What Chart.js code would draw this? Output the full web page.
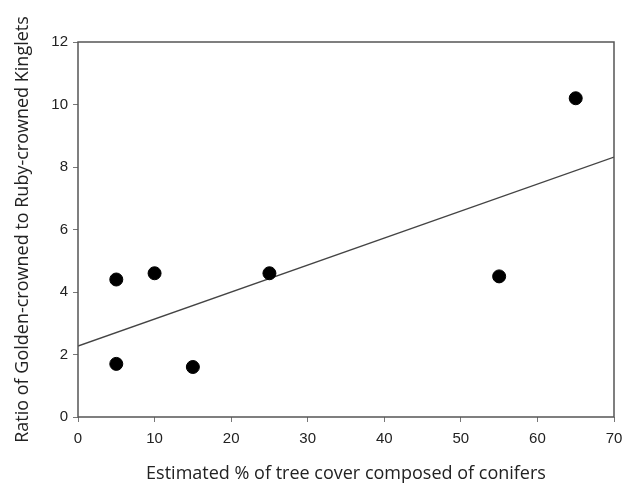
<!DOCTYPE html>
<html>
<head>
<meta charset="utf-8">
<script src="https://cdn.jsdelivr.net/npm/chart.js@4.4.1/dist/chart.umd.min.js"></script>
<style>
  html, body { margin: 0; padding: 0; background: #fff; }
  #wrap { width: 633px; height: 485px; }
</style>
</head>
<body>
<div id="wrap"><canvas id="plot" width="633" height="485"></canvas></div>
<script>
// conifer cover (%) and kinglet ratio
var coverPct = [5, 5, 10, 15, 25, 55, 65];
var kingletRatio = [4.4, 1.7, 4.6, 1.6, 4.6, 4.5, 10.2];
// fitted line end points
var fitX = [0, 70];
var fitY = [2.27, 8.32];

var xTicks = [0, 10, 20, 30, 40, 50, 60, 70];
var yTicks = [0, 2, 4, 6, 8, 10, 12];

var points = coverPct.map(function (x, i) { return { x: x, y: kingletRatio[i] }; });
var fitLine = fitX.map(function (x, i) { return { x: x, y: fitY[i] }; });

// box round the plot area
var frame = {
    id: 'frame',
    afterDatasetsDraw: function (chart) {
        var a = chart.chartArea, ctx = chart.ctx;
        ctx.save();
        ctx.strokeStyle = '#555';
        ctx.lineWidth = 1.5;
        ctx.strokeRect(a.left, a.top, a.right - a.left, a.bottom - a.top);
        ctx.restore();
    }
};

new Chart(document.getElementById('plot').getContext('2d'), {
    type: 'scatter',
    data: {
        datasets: [{
            type: 'line',
            data: fitLine,
            borderColor: '#444',
            borderWidth: 1.3,
            pointRadius: 0,
            fill: false,
            order: 2
        }, {
            data: points,
            backgroundColor: '#000',
            borderColor: '#000',
            pointRadius: 6.5,
            pointHoverRadius: 6.5,
            order: 1
        }]
    },
    plugins: [frame],
    options: {
        responsive: false,
        animation: false,
        layout: { padding: { left: 0, right: 19, top: 42, bottom: 0 } },
        plugins: { legend: { display: false }, tooltip: { enabled: false } },
        scales: {
            x: {
                type: 'linear',
                min: 0, max: 70,
                afterBuildTicks: function (s) { s.ticks = xTicks.map(function (v) { return { value: v }; }); },
                afterFit: function (s) { s.height = 68; },
                grid: { drawOnChartArea: false, drawTicks: true, tickLength: 5, color: '#777' },
                border: { display: false },
                ticks: { color: '#222', font: { family: 'Liberation Sans', size: 15 }, padding: 8, maxRotation: 0 },
                title: {
                    display: true,
                    text: 'Estimated % of tree cover composed of conifers',
                    color: '#222',
                    font: { family: 'Open Sans', size: 18 },
                    padding: { top: 4, bottom: 0 }
                }
            },
            y: {
                type: 'linear',
                min: 0, max: 12,
                afterBuildTicks: function (s) { s.ticks = yTicks.map(function (v) { return { value: v }; }); },
                afterFit: function (s) { s.width = 78; },
                grid: { drawOnChartArea: false, drawTicks: true, tickLength: 5, color: '#777' },
                border: { display: false },
                ticks: { color: '#222', font: { family: 'Liberation Sans', size: 15 }, padding: 5 },
                title: {
                    display: true,
                    text: 'Ratio of Golden-crowned to Ruby-crowned Kinglets',
                    color: '#222',
                    font: { family: 'Open Sans', size: 18 },
                    padding: { top: 12, bottom: 4 }
                }
            }
        }
    }
});
</script>
</body>
</html>
